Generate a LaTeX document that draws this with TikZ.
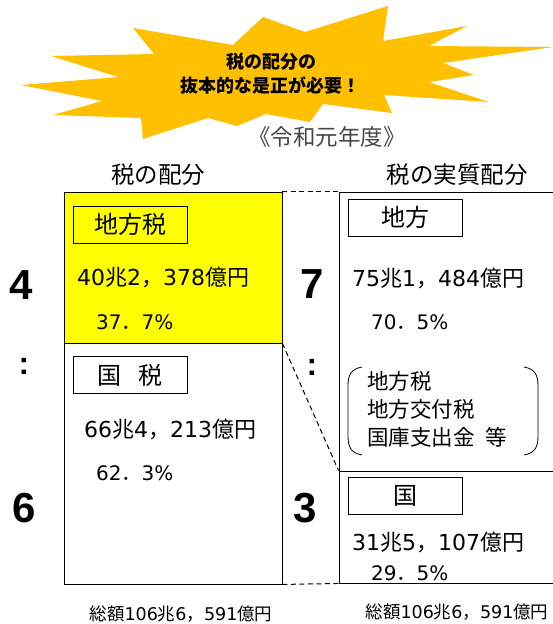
\documentclass[tikz,border=0pt]{standalone}
\usepackage{fontspec}
\setmainfont{Noto Sans CJK JP}
\newfontfamily\numfont{DejaVu Sans}
\newfontfamily\bigfont{Liberation Sans}
\newcommand\nm[1]{{\numfont #1}}
\newcommand\fsz[1]{\fontsize{#1}{#1}\selectfont}
\definecolor{burstc}{RGB}{255,192,0}
\definecolor{hiyel}{RGB}{255,255,0}
\definecolor{titlegray}{RGB}{70,70,70}
\begin{document}
\begin{tikzpicture}[x=1pt,y=-1pt,
  colbox/.style={draw=black, line width=0.9pt, inner sep=0, minimum width=218pt},
  rbox/.style={draw=black, line width=0.9pt, inner sep=0, minimum width=215pt},
  lbl/.style={draw=black, line width=0.9pt, minimum width=114pt, minimum height=37pt, inner sep=0, font=\fsz{24}},
  amt/.style={anchor=west, inner sep=0, font=\fsz{22}},
  pct/.style={anchor=west, inner sep=0, font=\fsz{20}},
  tot/.style={inner sep=0, font=\fsz{17.5}},
  hdr/.style={inner sep=0, font=\fsz{23.5}},
  big/.style={inner sep=0, font=\bigfont\bfseries\fsz{42}},
  colon/.style={inner sep=0, font=\bigfont\bfseries\fsz{32}},
  conn/.style={line width=1pt, dash pattern=on 5pt off 3.5pt},
  lst/.style={anchor=west, inner sep=0, font=\fsz{21.5}}]
\useasboundingbox (0,0) rectangle (553,624);
% starburst
\fill[burstc] (388,6) -- (383,41) -- (467,26) -- (429,46) -- (553,47) -- (443,63) -- (474,75) -- (429,82) -- (489,102) -- (384,95) -- (392,113) -- (323,104) -- (310,122) -- (266,114) -- (237,126) -- (208,118) -- (143,139) -- (141,118) -- (53,115) -- (102,101) -- (21,85) -- (118,77) -- (51,56) -- (154,54) -- (133,28) -- (233,45) -- (263,17) -- (305,32) -- cycle;
\node[inner sep=0, font=\bfseries\fsz{18}] (b1) at (271,62) {税の配分の};
\node[inner sep=0, font=\bfseries\fsz{18}] (b2) at (270,86) {抜本的な是正が必要！};
\node[inner sep=0, font=\fsz{22.5}, text=titlegray] (yr) at (327,137) {《令和元年度》};
% headers
\node[hdr] (hl) at (158,175) {税の配分};
\node[hdr] (hr) at (457,175) {税の実質配分};
% left column
\node[colbox, fill=hiyel, minimum height=151pt] (lt) at (173,267.5) {};
\node[colbox, minimum height=241pt] (lb) at (173,463.5) {};
% right column
\node[rbox, minimum height=279pt] (ru) at (446.5,331.5) {};
\node[rbox, minimum height=112pt] (rl) at (446.5,527) {};
% label boxes
\node[lbl] (l1) at (130,224.5) {地方税};
\node[lbl] (l2) at (130,375) {国\hspace{0.7em}税};
\node[lbl] (r1) at (405.5,217.5) {地方};
\node[lbl] (r2) at (405.5,496) {国};
% amounts
\node[amt] (a1) at (77,277) {\nm{40}兆\nm{2}，\nm{378}億円};
\node[pct] (p1) at (96,322) {\nm{37}．\nm{7\%}};
\node[amt] (a2) at (84,429) {\nm{66}兆\nm{4}，\nm{213}億円};
\node[pct] (p2) at (96,473) {\nm{62}．\nm{3\%}};
\node[amt] (a3) at (352,278) {\nm{75}兆\nm{1}，\nm{484}億円};
\node[pct] (p3) at (371,322) {\nm{70}．\nm{5\%}};
\node[amt] (a4) at (352,542) {\nm{31}兆\nm{5}，\nm{107}億円};
\node[pct] (p4) at (371,573) {\nm{29}．\nm{5\%}};
% list in brackets
\node[lst] (s1) at (367,381) {地方税};
\node[lst] (s2) at (367,409) {地方交付税};
\node[lst] (s3) at (367,437) {国庫支出金\hspace{0.5em}等};
\draw[line width=0.8pt] (362,367) .. controls (351,369) and (348,375) .. (348,386) -- (348,436) .. controls (348,447) and (351,453) .. (362,455);
\draw[line width=0.8pt] (524,367) .. controls (535,369) and (538,375) .. (538,386) -- (538,436) .. controls (538,447) and (535,453) .. (524,455);
% totals
\node[tot] (t1) at (181,614) {総額\nm{106}兆\nm{6}，\nm{591}億円};
\node[tot] (t2) at (457,612) {総額\nm{106}兆\nm{6}，\nm{591}億円};
% ratios
\node[big] (n4) at (21,285) {4};
\node[colon] (c1) at (24,366) {:};
\node[big] (n6) at (24,508) {6};
\node[big] (n7) at (312,284) {7};
\node[colon] (c2) at (312,367) {:};
\node[big] (n3) at (305,508) {3};
% connectors
\draw[conn] (lt.north east) -- (ru.north west);
\draw[conn] (lt.south east) -- (rl.north west);
\draw[conn] (lb.south east) -- (rl.south west);
\end{tikzpicture}
\end{document}
